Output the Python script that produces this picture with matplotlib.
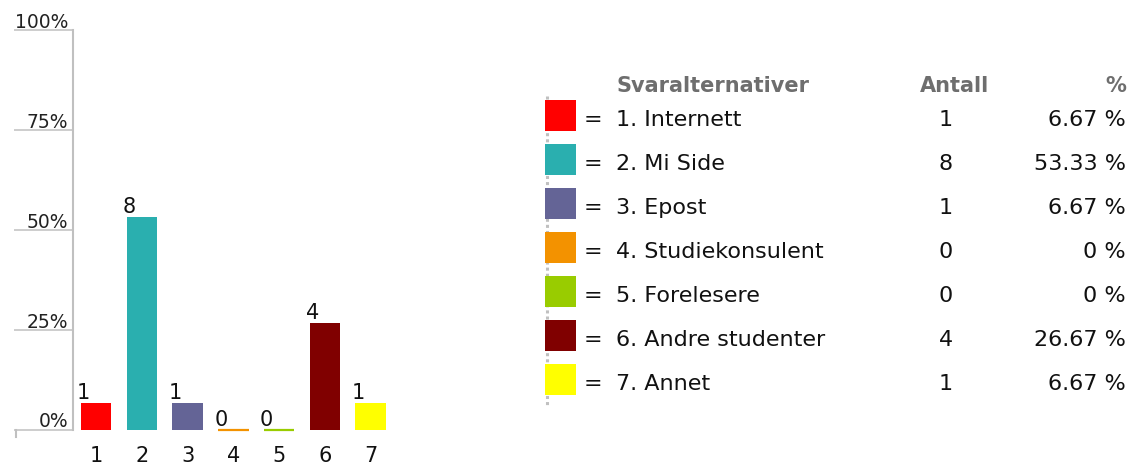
import matplotlib
matplotlib.use("Agg")
import matplotlib.pyplot as plt
from matplotlib.patches import Rectangle
from matplotlib.lines import Line2D

# ---- data ----
categories = ["1", "2", "3", "4", "5", "6", "7"]
option_names = ["1. Internett", "2. Mi Side", "3. Epost", "4. Studiekonsulent",
                "5. Forelesere", "6. Andre studenter", "7. Annet"]
counts = [1, 8, 1, 0, 0, 4, 1]
percents = [6.67, 53.33, 6.67, 0, 0, 26.67, 6.67]
percent_labels = ["6.67 %", "53.33 %", "6.67 %", "0 %", "0 %", "26.67 %", "6.67 %"]
colors = ["#ff0000", "#2aafaf", "#646496", "#f39200", "#99cc00", "#800000", "#ffff00"]
yticks = [0, 25, 50, 75, 100]
ytick_labels = ["0%", "25%", "50%", "75%", "100%"]
headers = ["Svaralternativer", "Antall", "%"]

W, H = 1130, 464
fig = plt.figure(figsize=(W / 100, H / 100), dpi=100)
plt.rcParams['font.family'] = ['DejaVu Sans']

def fx(x):
    return x / W

def fy(y):
    return 1 - y / H

GRAY = "#c0c0c0"

# ---- bar chart ----
ax_left, ax_right = 73.3, 73.3 + 7 * 45.75
ax_top, ax_bot = 31, 431
ax = fig.add_axes([fx(ax_left), fy(ax_bot), (ax_right - ax_left) / W, (ax_bot - ax_top) / H])
ax.set_xlim(-0.5, 6.5)
ax.set_ylim(0, 100)
ax.patch.set_visible(False)

bw = 0.667
xs = list(range(len(categories)))
ax.bar(xs, percents, width=bw, color=colors, linewidth=0, zorder=3)
# zero-valued answers are shown as a thin coloured line on the baseline
for x, p, col in zip(xs, percents, colors):
    if p == 0:
        ax.plot([x - bw / 2, x + bw / 2], [p, p], color=col, linewidth=1.6,
                solid_capstyle="butt", zorder=3, clip_on=False)

for x, p, c in zip(xs, percents, counts):
    ax.annotate(str(c), xy=(x - bw / 2, p), xytext=(-4, 5), textcoords="offset pixels",
                ha="left", va="baseline", fontsize=15, color="#111111")

for s in ["top", "right", "bottom"]:
    ax.spines[s].set_visible(False)
ax.spines["left"].set_color(GRAY)
ax.spines["left"].set_linewidth(1.5)

ax.set_yticks(yticks)
ax.set_yticklabels([])
ax.tick_params(axis="y", length=59 * 0.72, width=1.1, color=GRAY, direction="out")
for t, lab in zip(yticks, ytick_labels):
    ax.annotate(lab, xy=(0, t), xycoords=("axes fraction", "data"), xytext=(-5, 3.5),
                textcoords="offset pixels", ha="right", va="baseline",
                fontsize=13.5, color="#222222")

ax.set_xticks(xs)
ax.set_xticklabels(categories, fontsize=15, color="#111111")
ax.tick_params(axis="x", length=0, pad=10.5)

fig.add_artist(Line2D([fx(15.5), fx(15.5)], [fy(431), fy(438)], transform=fig.transFigure,
                      color=GRAY, linewidth=1.5))

# ---- legend table ----
fig.add_artist(Line2D([fx(546.5), fx(546.5)], [fy(97), fy(407)], transform=fig.transFigure,
                      color=GRAY, linewidth=2.2, linestyle=(0, (1, 1)), zorder=1))

hdr_kw = dict(fontsize=15, fontweight="bold", color="#6e6e6e", va="baseline",
              transform=fig.transFigure)
fig.text(fx(616.5), fy(92), headers[0], ha="left", **hdr_kw)
fig.text(fx(920), fy(92), headers[1], ha="left", **hdr_kw)
fig.text(fx(1126), fy(92), headers[2], ha="right", **hdr_kw)

row_kw = dict(fontsize=16, color="#111111", va="baseline", transform=fig.transFigure)
for i, (name, c, pl, col) in enumerate(zip(option_names, counts, percent_labels, colors)):
    top = 101 + 44 * i
    fig.add_artist(Rectangle((fx(545), fy(top + 31)), 31 / W, 31 / H,
                             transform=fig.transFigure, facecolor=col, edgecolor="none",
                             zorder=2))
    base = 126 + 44 * i
    fig.text(fx(593), fy(base), "=", ha="center", **row_kw)
    fig.text(fx(616), fy(base), name, ha="left", **row_kw)
    fig.text(fx(946), fy(base), str(c), ha="center", **row_kw)
    fig.text(fx(1126), fy(base), pl, ha="right", **row_kw)

fig.savefig("out.png", dpi=100)
